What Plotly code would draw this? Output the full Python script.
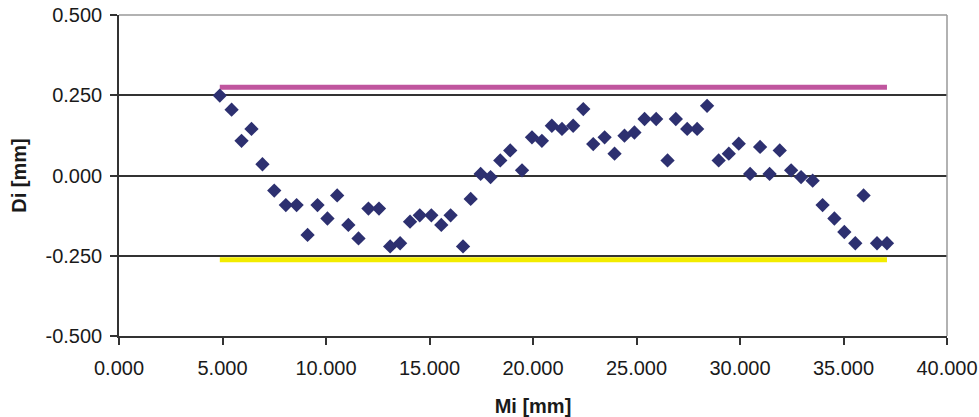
import plotly.graph_objects as go

# Measured positions Mi [mm] and deviations Di [mm]
mi = [4.87, 5.44, 5.92, 6.40, 6.93, 7.50, 8.06, 8.58, 9.11, 9.59,
      10.07, 10.54, 11.08, 11.57, 12.05, 12.56, 13.10, 13.58, 14.06, 14.53,
      15.09, 15.57, 16.02, 16.62, 16.99, 17.47, 17.95, 18.42, 18.90, 19.47,
      19.95, 20.43, 20.91, 21.40, 21.94, 22.43, 22.91, 23.46, 23.94, 24.42,
      24.90, 25.39, 25.95, 26.50, 26.90, 27.45, 27.93, 28.41, 28.97, 29.46,
      29.94, 30.49, 30.97, 31.43, 31.92, 32.47, 32.95, 33.51, 33.99, 34.56,
      35.04, 35.57, 35.97, 36.62, 37.10]
di = [0.249, 0.205, 0.108, 0.145, 0.035, -0.047, -0.092, -0.092, -0.185, -0.092,
      -0.134, -0.062, -0.154, -0.196, -0.103, -0.103, -0.221, -0.211, -0.144, -0.124,
      -0.124, -0.154, -0.124, -0.221, -0.073, 0.005, -0.005, 0.047, 0.078, 0.016,
      0.119, 0.108, 0.155, 0.145, 0.155, 0.207, 0.098, 0.119, 0.068, 0.124,
      0.134, 0.176, 0.176, 0.047, 0.176, 0.145, 0.145, 0.217, 0.047, 0.068,
      0.099, 0.005, 0.089, 0.005, 0.078, 0.016, -0.005, -0.016, -0.092, -0.134,
      -0.176, -0.211, -0.062, -0.211, -0.211]

upper_limit = [0.275, 0.275]
lower_limit = [-0.2625, -0.2625]
limit_x = [min(mi), max(mi)]

x_tick_vals = [0, 5, 10, 15, 20, 25, 30, 35, 40]
x_tick_labels = ["0.000", "5.000", "10.000", "15.000", "20.000",
                 "25.000", "30.000", "35.000", "40.000"]
y_tick_vals = [-0.5, -0.25, 0, 0.25, 0.5]
y_tick_labels = ["-0.500", "-0.250", "0.000", "0.250", "0.500"]

FONT = "Liberation Sans, Arial, sans-serif"

fig = go.Figure()
fig.add_trace(go.Scatter(x=limit_x, y=upper_limit, mode="lines",
                         line=dict(color="#C0559E", width=5), showlegend=False,
                         hoverinfo="skip"))
fig.add_trace(go.Scatter(x=limit_x, y=lower_limit, mode="lines",
                         line=dict(color="#F2EC00", width=5), showlegend=False,
                         hoverinfo="skip"))
fig.add_trace(go.Scatter(x=mi, y=di, mode="markers",
                         marker=dict(symbol="diamond", size=11, color="#2D3070",
                                     line=dict(width=0)),
                         showlegend=False))

fig.update_layout(
    width=979, height=417,
    margin=dict(l=119, r=32, t=15, b=81),
    paper_bgcolor="white", plot_bgcolor="white",
    font=dict(family=FONT, size=20, color="#1a1a1a"),
    xaxis=dict(
        range=[0, 40], tickvals=x_tick_vals, ticktext=x_tick_labels,
        showgrid=False, zeroline=False, automargin=False,
        showline=True, linecolor="#333333", linewidth=1.5,
        ticks="outside", ticklen=7, tickcolor="#333333", tickwidth=1.5,
        ticklabelstandoff=6,
        title=dict(text="<b>Mi [mm]</b>", font=dict(size=20), standoff=26),
    ),
    yaxis=dict(
        range=[-0.5, 0.5], tickvals=y_tick_vals, ticktext=y_tick_labels,
        showgrid=True, gridcolor="#333333", gridwidth=1.5, zeroline=False,
        automargin=False,
        showline=True, linecolor="#333333", linewidth=1.5,
        ticks="outside", ticklen=7, tickcolor="#333333", tickwidth=1.5,
        ticklabelstandoff=4,
        title=dict(text="<b>Di [mm]</b>", font=dict(size=20), standoff=14),
    ),
    shapes=[
        dict(type="line", xref="paper", yref="paper", x0=0, x1=1, y0=1, y1=1,
             line=dict(color="#999999", width=1.5), layer="above"),
        dict(type="line", xref="paper", yref="paper", x0=1, x1=1, y0=0, y1=1,
             line=dict(color="#999999", width=1.5), layer="above"),
    ],
)

# remove the browser's default body margin so the figure sits at the page corner
fig.write_html("out.html", config={"displayModeBar": False},
               post_script="document.body.style.margin='0';")
